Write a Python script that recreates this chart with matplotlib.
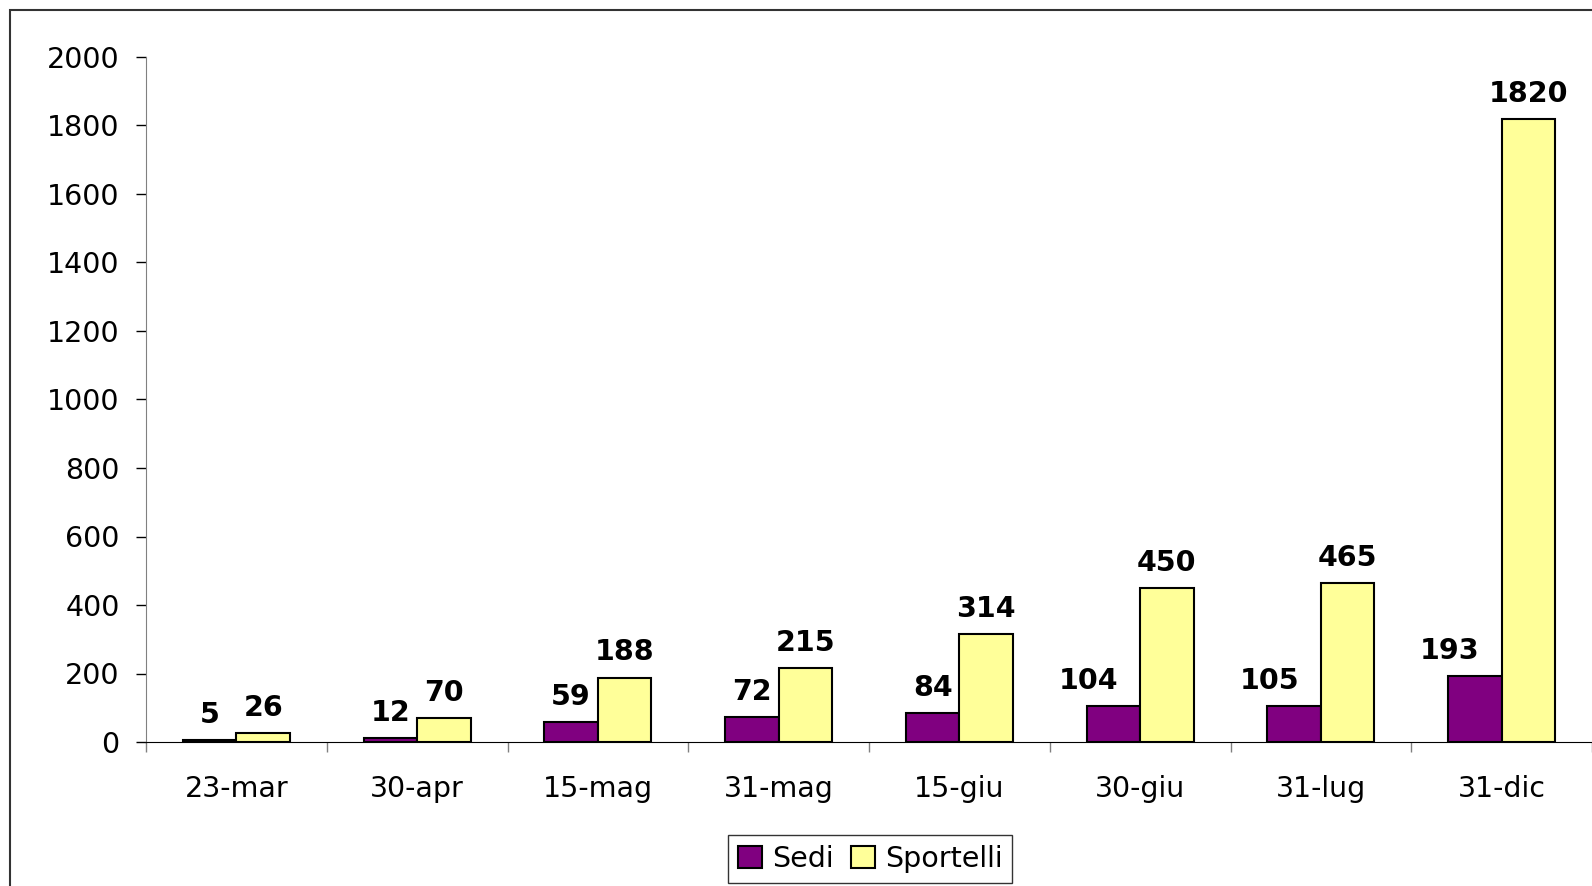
import numpy as np
import matplotlib
matplotlib.use("Agg")
import matplotlib.pyplot as plt
from matplotlib.patches import Rectangle

categories = ["23-mar", "30-apr", "15-mag", "31-mag", "15-giu", "30-giu", "31-lug", "31-dic"]
sedi = [5, 12, 59, 72, 84, 104, 105, 193]
sportelli = [26, 70, 188, 215, 314, 450, 465, 1820]
yticks = list(range(0, 2001, 200))

plt.rcParams['font.family'] = ['DejaVu Sans']

fig = plt.figure(figsize=(15.92, 8.86), dpi=100)
ax = fig.add_axes([146 / 1592, 1 - 742 / 886, (1592 - 146) / 1592, (742 - 57) / 886])

x = np.arange(len(categories))
w = 0.296
b1 = ax.bar(x - w / 2, sedi, w, color="#800080", edgecolor="black", linewidth=1.5, label="Sedi")
b2 = ax.bar(x + w / 2, sportelli, w, color="#FFFF99", edgecolor="black", linewidth=1.5, label="Sportelli")

# etichette sopra le barre (quelle a 3 cifre delle sedi spostate a sinistra)
for bars, vals, shift in ((b1, sedi, True), (b2, sportelli, False)):
    for r, v in zip(bars, vals):
        dx = -18 if (shift and len(str(v)) >= 3) else 0
        ax.annotate(str(v), (r.get_x() + r.get_width() / 2, r.get_height()),
                    xytext=(dx, 8), textcoords="offset points",
                    ha="center", va="bottom", fontsize=20.5, fontweight="bold")

ax.set_xlim(-0.5, len(categories) - 0.5)
ax.set_ylim(0, 2000)
ax.set_yticks(yticks)
ax.tick_params(axis="y", labelsize=20.5, length=7, width=1, pad=12)

ax.set_xticks(x)
ax.set_xticklabels(categories)
ax.set_xticks(np.arange(-0.5, len(categories)), minor=True)
ax.tick_params(axis="x", which="major", length=0, labelsize=20.5, pad=24)
ax.tick_params(axis="x", which="minor", length=7, width=1, color="#808080")

for s in ("top", "right"):
    ax.spines[s].set_visible(False)
ax.spines["left"].set_color("#808080")
ax.spines["bottom"].set_color("black")

leg = fig.legend(loc="center", bbox_to_anchor=(870 / 1592, 1 - 859 / 886), ncol=2,
                 fontsize=20.5, frameon=True, fancybox=False, handlelength=0.85,
                 handleheight=0.85, handletextpad=0.35, columnspacing=0.6,
                 borderpad=0.35, borderaxespad=0)
leg.get_frame().set_edgecolor("black")
leg.get_frame().set_linewidth(1)

# cornice della figura
fig.patches.append(Rectangle((10 / 1592, -0.1), 1.2, 1.1 - 10 / 886, transform=fig.transFigure,
                             fill=False, edgecolor="#333333", linewidth=1.5))

fig.savefig("out.png", dpi=100)
